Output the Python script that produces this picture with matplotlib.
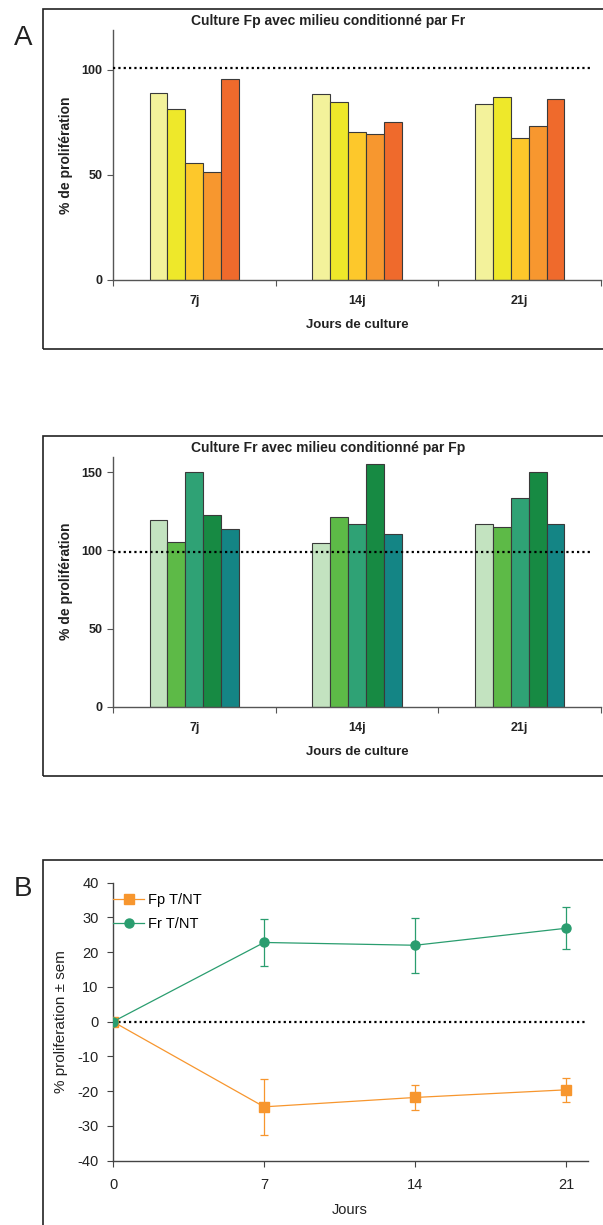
import matplotlib
matplotlib.use("Agg")
import matplotlib.pyplot as plt
from matplotlib.patches import Rectangle
from matplotlib.lines import Line2D

plt.rcParams['axes.unicode_minus'] = False

# ---- data ----
days_cat = ['7j', '14j', '21j']
fp_bars = [[89.2, 81.6, 55.7, 51.6, 95.6],
           [88.3, 84.6, 70.6, 69.7, 75.2],
           [83.7, 87.1, 67.8, 73.2, 86.2]]
fr_bars = [[119.6, 105.7, 150.0, 123.0, 114.0],
           [104.9, 121.5, 116.8, 155.3, 110.4],
           [116.8, 114.7, 133.4, 150.0, 116.8]]
fp_colors = ['#F3F29B', '#EEE82A', '#FDC82B', '#F7972F', '#EF6A2C']
fr_colors = ['#C3E3C0', '#5DBA47', '#2FA275', '#178A43', '#148585']
ref_fp = 101
ref_fr = 99

jours = [0, 7, 14, 21]
fp_tnt = [0, -24.5, -21.8, -19.6]
fp_sem = [0, 8.0, 3.5, 3.4]
fr_tnt = [0, 22.8, 22.0, 26.9]
fr_sem = [0, 6.7, 7.9, 6.1]

W, H = 603, 1225
fig = plt.figure(figsize=(W / 100, H / 100), dpi=100)

BOLD = ['Liberation Sans', 'DejaVu Sans']
ARIAL = ['Liberation Sans', 'DejaVu Sans']
FP_COL = '#F7962E'
FR_COL = '#2A9D6F'


def fx(px):
    return px / W


def fy(py):
    return 1 - py / H


def box(x0, y0, x1, y1):
    fig.patches.append(Rectangle((fx(x0), fy(y1)), fx(x1) - fx(x0), fy(y0) - fy(y1),
                                 transform=fig.transFigure, fill=False,
                                 edgecolor='#222222', lw=1.2))


def bar_panel(top, bottom, vals, colors, ref, ymax, yticks, title, title_y):
    ax = fig.add_axes([fx(113), fy(bottom), fx(601) - fx(113), fy(top) - fy(bottom)])
    for g, row in enumerate(vals):
        for i, v in enumerate(row):
            ax.bar(g + 0.5 + (i - 2) * 0.11, v, width=0.11, color=colors[i],
                   edgecolor='#3a3a3a', lw=0.8, zorder=2)
    ax.plot([0, 2.93], [ref, ref], color='black', lw=1.6,
            linestyle=(0, (1, 1.4)), zorder=3)
    ax.set_xlim(0, 3)
    ax.set_ylim(0, ymax)
    for s in ['top', 'right']:
        ax.spines[s].set_visible(False)
    for s in ['left', 'bottom']:
        ax.spines[s].set_color('#555555')
        ax.spines[s].set_linewidth(1.0)
    ax.set_yticks(yticks)
    ax.set_yticklabels([str(t) for t in yticks], fontfamily=BOLD,
                       fontweight='bold', fontsize=9, color='#222222')
    ax.tick_params(axis='y', length=4.3, width=0.8, color='#555555', pad=3.5)
    ax.set_xticks([0, 1, 2, 3])
    ax.set_xticklabels([])
    ax.tick_params(axis='x', which='major', length=4, width=0.8, color='#555555')
    ax.set_xticks([0.5, 1.5, 2.5], minor=True)
    ax.set_xticklabels(days_cat, minor=True, fontfamily=BOLD,
                       fontweight='bold', fontsize=9, color='#222222')
    ax.tick_params(axis='x', which='minor', length=0, pad=11)
    fig.text(fx(328), fy(title_y), title, ha='center', va='center',
             fontfamily=BOLD, fontweight='bold', fontsize=10, color='#222222')
    fig.text(fx(66), fy((top + bottom) / 2), '% de prolifération', rotation=90,
             ha='center', va='center', fontfamily=BOLD, fontweight='bold',
             fontsize=10, color='#222222')
    fig.text(fx(357), fy(bottom + 45), 'Jours de culture', ha='center', va='center',
             fontfamily=BOLD, fontweight='bold', fontsize=9.5, color='#222222')
    return ax


# ---- panel A (top) ----
box(43, 9, 620, 349)
fig.text(fx(23), fy(38), 'A', ha='center', va='center', fontfamily=ARIAL,
         fontsize=20, color='#222222')
bar_panel(30, 280, fp_bars, fp_colors, ref_fp, 119, [0, 50, 100],
          'Culture Fp avec milieu conditionné par Fr', 21.5)

# ---- panel A (middle) ----
box(43, 436, 620, 776)
bar_panel(456.7, 706.7, fr_bars, fr_colors, ref_fr, 160, [0, 50, 100, 150],
          'Culture Fr avec milieu conditionné par Fp', 448)

# ---- panel B ----
box(43, 860, 620, 1240)
fig.text(fx(23), fy(889), 'B', ha='center', va='center', fontfamily=ARIAL,
         fontsize=20, color='#222222')
ax3 = fig.add_axes([fx(113), fy(1160.7), fx(588) - fx(113), fy(882.7) - fy(1160.7)])
ax3.plot([0, 21.9], [0, 0], color='black', lw=1.6, linestyle=(0, (1, 1.4)), zorder=1)
ax3.errorbar(jours, fp_tnt, yerr=fp_sem, color=FP_COL, lw=0.9, marker='s',
             markersize=6.5, capsize=3, elinewidth=0.9, capthick=0.9, zorder=3)
ax3.errorbar(jours, fr_tnt, yerr=fr_sem, color=FR_COL, lw=0.9, marker='o',
             markersize=6.5, capsize=3, elinewidth=0.9, capthick=0.9, zorder=3)
ax3.set_xlim(0, 22)
ax3.set_ylim(-40, 40)
ax3.set_xticks(jours)
ax3.set_yticks(range(-40, 41, 10))
for s in ['top', 'right']:
    ax3.spines[s].set_visible(False)
for s in ['left', 'bottom']:
    ax3.spines[s].set_color('#444444')
    ax3.spines[s].set_linewidth(1.0)
ax3.tick_params(length=4.3, width=0.8, color='#444444', labelsize=10.5,
                labelcolor='#222222')
ax3.tick_params(axis='y', pad=6)
ax3.tick_params(axis='x', pad=8)
for lab in ax3.get_xticklabels() + ax3.get_yticklabels():
    lab.set_fontfamily(ARIAL)
fig.text(fx(61.5), fy(1021.7), '% proliferation ± sem', rotation=90, ha='center',
         va='center', fontfamily=ARIAL, fontsize=11, color='#222222')
fig.text(fx(350), fy(1210), 'Jours', ha='center', va='center', fontfamily=ARIAL,
         fontsize=10.5, color='#222222')
handles = [Line2D([], [], color=FP_COL, lw=0.9, marker='s', markersize=6.5),
           Line2D([], [], color=FR_COL, lw=0.9, marker='o', markersize=6.5)]
ax3.legend(handles, ['Fp T/NT', 'Fr T/NT'], loc='upper left',
           bbox_to_anchor=(fx(103), fy(882.7)), bbox_transform=fig.transFigure,
           frameon=False, borderaxespad=0, borderpad=0.7, handlelength=2.1,
           handletextpad=0.3, labelspacing=0.7, prop={'family': ARIAL, 'size': 10.5})

fig.savefig('out.png', dpi=100)
